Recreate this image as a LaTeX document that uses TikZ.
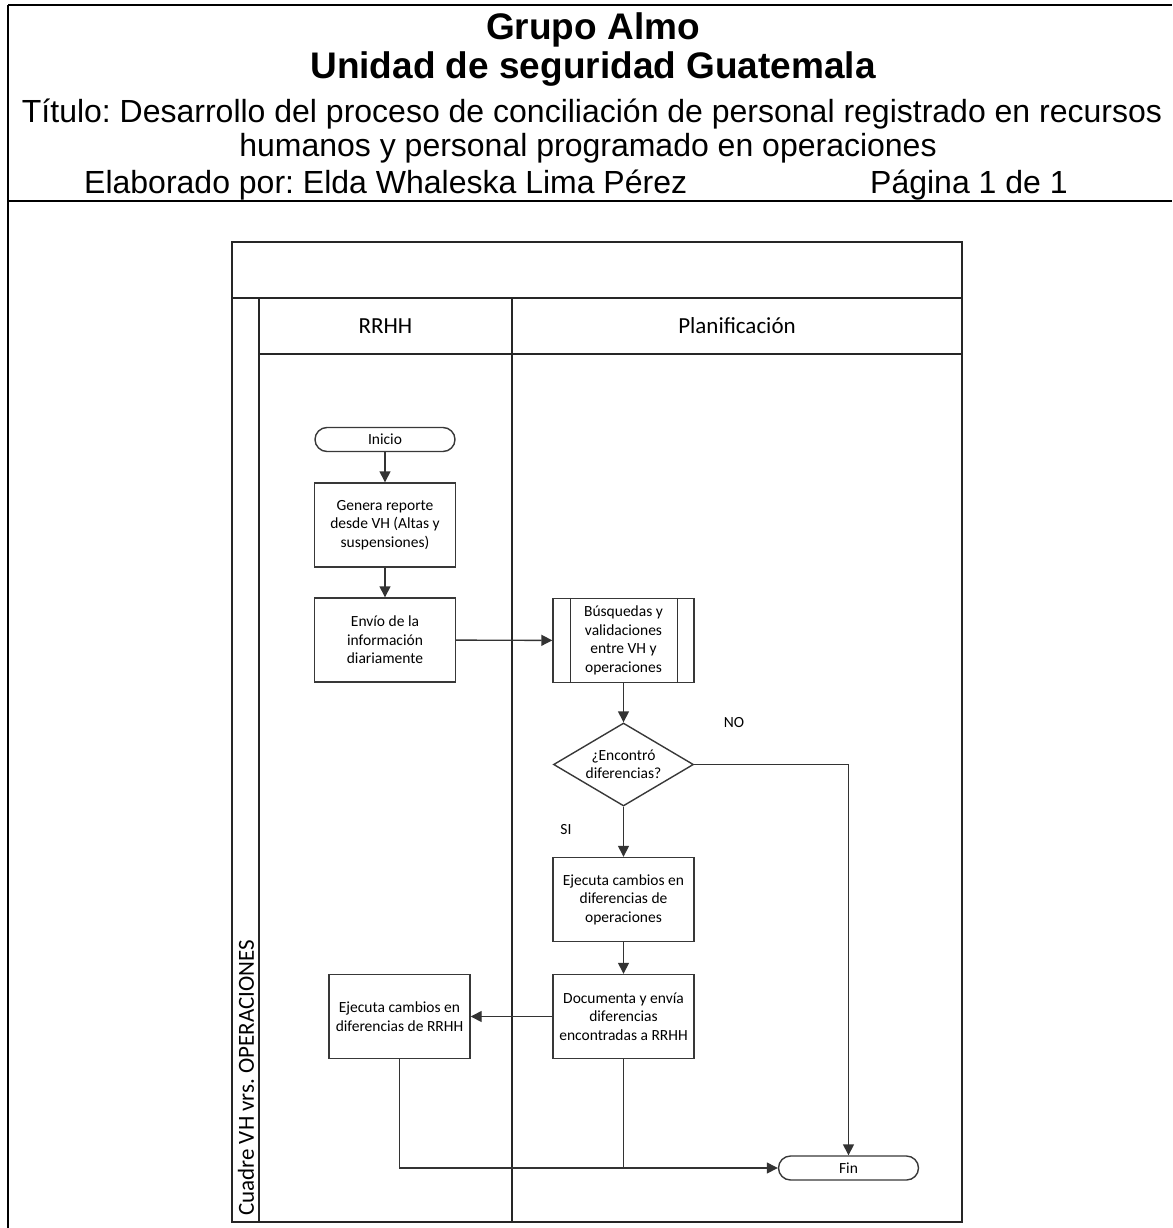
\documentclass[tikz,border=0pt]{standalone}
\usepackage{fontspec}
\newfontfamily\arialf{Liberation Sans}
\newfontfamily\calibf{Carlito}
\usetikzlibrary{shapes.geometric,arrows.meta}
\frenchspacing
\begin{document}
\begin{tikzpicture}[x=1pt,y=-1pt,
  frameline/.style={line width=2.6pt,black},
  poolline/.style={line width=1.6pt,black!85},
  boxtext/.style={font=\calibf\fontsize{15.5}{18.5}\selectfont},
  procbox/.style={boxtext,draw=black!78,line width=1.4pt,rectangle,
    minimum width=141pt,minimum height=84pt,align=center,inner sep=1pt},
  termbox/.style={boxtext,draw=black!78,line width=1.4pt,rectangle,
    rounded corners=12pt,minimum width=140pt,minimum height=24pt,inner sep=0pt},
  decbox/.style={boxtext,draw=black!78,line width=1.4pt,diamond,aspect=1.7,
    minimum width=140pt,minimum height=83pt,align=center,inner sep=0pt},
  flow/.style={line width=1.4pt,black!80},
  arr/.style={flow,-{Triangle[length=11pt,width=11pt]}},
  hdrbold/.style={font=\arialf\bfseries\fontsize{37}{44}\selectfont,anchor=base,inner sep=0pt},
  hdr/.style={font=\arialf\fontsize{32}{38}\selectfont,anchor=base,inner sep=0pt},
  lanetext/.style={font=\calibf\fontsize{23}{27}\selectfont,inner sep=0pt}
]
\useasboundingbox (0,0) rectangle (1172,1228);

% page frame and header rule
\draw[frameline] (8,5) -- (1172,5);
\draw[frameline] (8,5) -- (8,1228);
\draw[line width=2.2pt] (8,201) -- (1172,201);

% header texts
\node[hdrbold] (h1) at (593,40) {Grupo Almo};
\node[hdrbold] (h2) at (593,79) {Unidad de seguridad Guatemala};
\node[hdr] (h3) at (592,122) {Título: Desarrollo del proceso de conciliación de personal registrado en recursos};
\node[hdr] (h4) at (588,157) {humanos y personal programado en operaciones};
\node[hdr,anchor=base west] (h5) at (84,193) {Elaborado por: Elda Whaleska Lima Pérez};
\node[hdr,anchor=base west] (h6) at (870,193) {Página 1 de 1};

% swimlane pool
\draw[poolline] (232,242) rectangle (962,1222);
\draw[poolline] (232,298) -- (962,298);
\draw[poolline] (259,298) -- (259,1222);
\draw[poolline] (512,298) -- (512,1222);
\draw[poolline] (259,354) -- (962,354);
\node[lanetext] (lane1) at (385.5,326) {RRHH};
\node[lanetext] (lane2) at (737,326) {Planificación};
\node[lanetext,rotate=90,anchor=west] (pool) at (246,1216) {Cuadre VH vrs. OPERACIONES};

% flowchart nodes
\node[termbox] (inicio) at (385,439.5) {Inicio};
\node[procbox] (genera) at (385,525) {Genera reporte\\desde VH (Altas y\\suspensiones)};
\node[procbox] (envio) at (385,640) {Envío de la\\información\\diariamente};
\node[procbox] (busq) at (623.5,640.5) {Búsquedas y\\validaciones\\entre VH y\\operaciones};
\draw[flow] ([xshift=18pt]busq.north west) -- ([xshift=18pt]busq.south west);
\draw[flow] ([xshift=-17pt]busq.north east) -- ([xshift=-17pt]busq.south east);
\node[decbox] (dec) at (623.5,764.5) {¿Encontró\\diferencias?};
\node[procbox] (ejops) at (623.5,899.5) {Ejecuta cambios en\\diferencias de\\operaciones};
\node[procbox] (doc) at (623.5,1016.5) {Documenta y envía\\diferencias\\encontradas a RRHH};
\node[procbox] (ejrh) at (399.5,1016.5) {Ejecuta cambios en\\diferencias de RRHH};
\node[termbox] (fin) at (848.5,1168) {Fin};

% branch labels
\node[boxtext] (no) at (734,723) {NO};
\node[boxtext] (si) at (566,830) {SI};

% connectors
\draw[arr] (inicio) -- (genera);
\draw[arr] (genera) -- (envio);
\draw[arr] (envio) -- (busq);
\draw[arr] (busq) -- (dec);
\draw[arr] (dec) -- (ejops);
\draw[arr] (dec.east) -| (fin.north);
\draw[arr] (ejops) -- (doc);
\draw[arr] (doc) -- (ejrh);
\draw[arr] (ejrh.south) |- (fin.west);
\draw[flow] (doc.south) -- (doc.south |- fin.west);
\end{tikzpicture}
\end{document}
